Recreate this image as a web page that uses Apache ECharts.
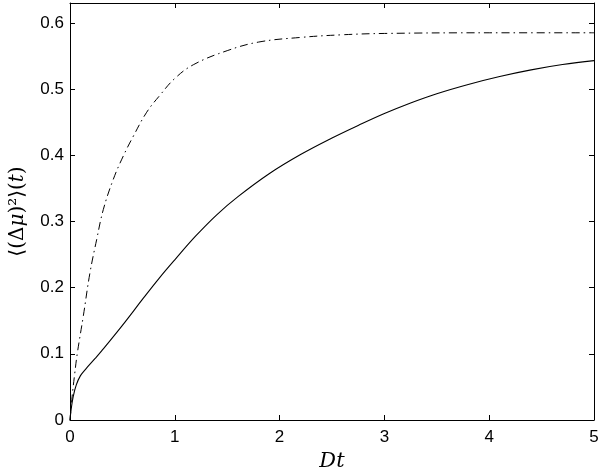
<!DOCTYPE html>
<html>
<head>
<meta charset="utf-8">
<script src="https://cdn.jsdelivr.net/npm/echarts@6/dist/echarts.min.js"></script>
<style>html,body{margin:0;padding:0;background:#fff;}#c{width:600px;height:467px;}</style>
</head>
<body>
<div id="c"></div>
<script>
var solidT = [0, 0.01, 0.03, 0.06, 0.1, 0.15, 0.24, 0.3, 0.5, 0.7, 0.85, 1.0, 1.2, 1.4, 1.6, 1.9, 2.2, 2.5, 2.75, 3.0, 3.25, 3.5, 3.8, 4.1, 4.4, 4.7, 5.0];
var solidV = [0, 0.015, 0.035, 0.053, 0.067, 0.077, 0.093, 0.104, 0.143, 0.184, 0.214, 0.242, 0.278, 0.310, 0.337, 0.372, 0.401, 0.426, 0.445, 0.463, 0.479, 0.493, 0.507, 0.519, 0.529, 0.537, 0.543];
var dashT = [0, 0.02, 0.045, 0.07, 0.127, 0.19, 0.255, 0.318, 0.414, 0.509, 0.605, 0.732, 0.86, 1.0, 1.18, 1.5, 1.8, 2.2, 2.6, 3.0, 4.0, 5.0];
var dashV = [0, 0.035, 0.07, 0.101, 0.157, 0.222, 0.273, 0.318, 0.364, 0.399, 0.429, 0.465, 0.491, 0.516, 0.537, 0.558, 0.571, 0.578, 0.582, 0.584, 0.585, 0.585];
var xTicks = [0, 1, 2, 3, 4, 5];
var yTicks = [0, 0.1, 0.2, 0.3, 0.4, 0.5, 0.6];

function pairs(a, b) { return a.map(function (v, i) { return [v, b[i]]; }); }

var chart = echarts.init(document.getElementById('c'), null, {renderer: 'canvas'});
var axisLine = {show: true, onZero: false, lineStyle: {color: '#000', width: 1}};
var tick = {show: true, inside: true, length: 5, lineStyle: {color: '#000', width: 1}};
var lblFont = {color: '#000', fontSize: 17, fontFamily: 'Liberation Sans, Arial, sans-serif'};
chart.setOption({
  animation: false,
  backgroundColor: '#fff',
  grid: {left: 70, top: 3, right: 6, bottom: 47, containLabel: false, outerBoundsMode: 'none'},
  xAxis: [{
    type: 'value', min: 0, max: 5, interval: 1, position: 'bottom',
    axisLine: axisLine, axisTick: tick, splitLine: {show: false},
    axisLabel: Object.assign({margin: 9, formatter: function (v) { return xTicks.indexOf(v) >= 0 ? String(v) : ''; }}, lblFont),
    name: 'Dt', nameLocation: 'middle', nameGap: 30,
    nameTextStyle: {color: '#000', fontSize: 21, fontStyle: 'italic', fontFamily: 'DejaVu Serif, Liberation Serif, serif'}
  }, {
    type: 'value', min: 0, max: 5, interval: 1, position: 'top',
    axisLine: axisLine, axisTick: tick, splitLine: {show: false}, axisLabel: {show: false}
  }],
  yAxis: [{
    type: 'value', min: 0, max: 0.63, interval: 0.1, position: 'left',
    axisLine: axisLine, axisTick: tick, splitLine: {show: false},
    axisLabel: Object.assign({margin: 6, formatter: function (v) {
      var r = Math.round(v * 10) / 10; return yTicks.indexOf(r) >= 0 && Math.abs(v - r) < 1e-9 ? String(r) : '';
    }}, lblFont),
    name: '{n|\u27E8(\u0394}{i|\u03BC}{n|)\u00B2\u27E9(}{i|t}{n|)}',
    nameLocation: 'middle', nameGap: 42, nameRotate: 90,
    nameTextStyle: {
      color: '#000', fontSize: 20, fontFamily: 'DejaVu Serif, Liberation Serif, serif',
      rich: {
        n: {fontSize: 20, fontFamily: 'DejaVu Serif, Liberation Serif, serif', color: '#000'},
        i: {fontSize: 20, fontStyle: 'italic', fontFamily: 'DejaVu Serif, Liberation Serif, serif', color: '#000'}
      }
    }
  }, {
    type: 'value', min: 0, max: 0.63, interval: 0.1, position: 'right',
    axisLine: axisLine, axisTick: tick, splitLine: {show: false}, axisLabel: {show: false}
  }],
  series: [{
    type: 'line', data: pairs(solidT, solidV), smooth: 0.4,
    showSymbol: false, symbol: 'none', lineStyle: {color: '#000', width: 1.1}, z: 3
  }, {
    type: 'line', data: pairs(dashT, dashV), smooth: 0.4,
    showSymbol: false, symbol: 'none', lineStyle: {color: '#000', width: 1, type: [8, 4, 1.5, 4]}, z: 3
  }]
});
</script>
</body>
</html>
